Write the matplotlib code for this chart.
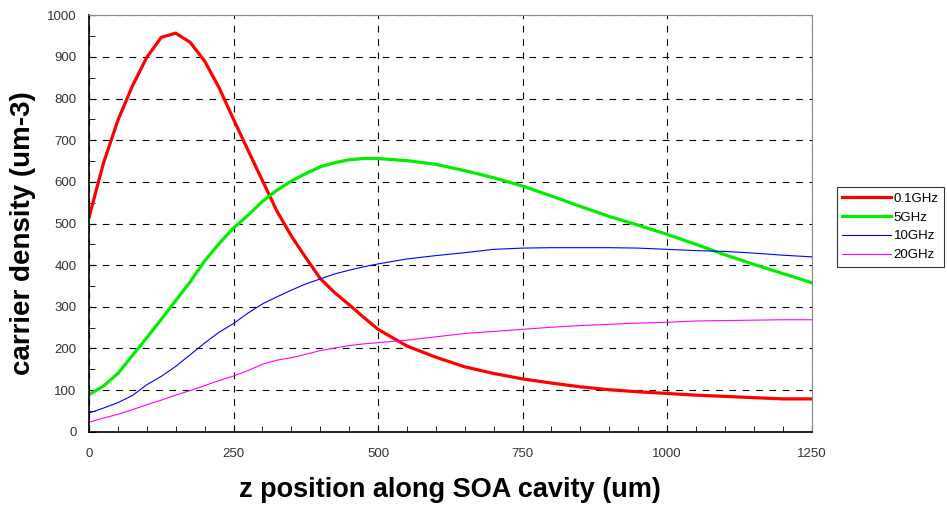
import matplotlib
matplotlib.use("Agg")
import matplotlib.pyplot as plt
from matplotlib.ticker import MultipleLocator

plt.rcParams["font.family"] = ["Liberation Sans", "DejaVu Sans"]

# position along the cavity (um)
z = [0, 25, 50, 75, 100, 125, 150, 175, 200, 225, 250, 275, 300, 325, 350,
     375, 400, 425, 450, 475, 500, 550, 600, 650, 700, 750, 800, 850, 900,
     950, 1000, 1050, 1100, 1150, 1200, 1250]

n_01ghz = [515, 645, 748, 830, 899, 947, 957, 935, 890, 826, 750, 676, 603,
           530, 470, 418, 368, 334, 305, 275, 246, 206, 179, 156, 140, 127,
           117, 108, 101, 96, 92, 88, 85, 82, 79, 79]
n_5ghz = [89, 110, 140, 183, 226, 270, 315, 360, 410, 452, 489, 520, 553,
          580, 602, 620, 636, 646, 653, 656, 656, 651, 642, 627, 610, 590,
          566, 541, 517, 496, 474, 450, 425, 402, 380, 358]
n_10ghz = [45, 57, 70, 87, 113, 133, 157, 185, 213, 239, 260, 285, 307, 324,
           340, 355, 367, 379, 388, 396, 403, 415, 423, 430, 438, 441, 442,
           442, 442, 441, 438, 435, 433, 429, 424, 420]
n_20ghz = [23, 33, 42, 53, 65, 76, 88, 99, 111, 123, 134, 147, 162, 172, 178,
           186, 195, 201, 207, 211, 214, 220, 228, 236, 241, 246, 251, 255,
           258, 261, 263, 266, 267, 268, 269, 269]

fig = plt.figure(figsize=(9.47, 5.08), dpi=100)
ax = fig.add_axes([0.094, 0.150, 0.763, 0.820])

ax.plot(z, n_01ghz, color="#ff0000", lw=2.3, label="0.1GHz", solid_joinstyle="round")
ax.plot(z, n_5ghz, color="#00ee00", lw=2.3, label="5GHz", solid_joinstyle="round")
ax.plot(z, n_10ghz, color="#0000ff", lw=0.8, label="10GHz")
ax.plot(z, n_20ghz, color="#ff00ff", lw=0.8, label="20GHz")

ax.set_xlim(0, 1250)
ax.set_ylim(0, 1000)
ax.xaxis.set_major_locator(MultipleLocator(250))
ax.xaxis.set_minor_locator(MultipleLocator(50))
ax.yaxis.set_major_locator(MultipleLocator(100))
ax.yaxis.set_minor_locator(MultipleLocator(50))
ax.tick_params(which="both", direction="in", labelsize=9.5, labelcolor="#333333")
ax.tick_params(which="major", length=5)
ax.tick_params(which="minor", length=4)
ax.tick_params(axis="x", pad=12)
ax.tick_params(axis="y", pad=9)
ax.grid(True, which="major", color="black", linestyle=(0, (6, 6)), lw=0.8)

for s in ["top", "right"]:
    ax.spines[s].set_color("#888888")
for s in ["left", "bottom"]:
    ax.spines[s].set_linewidth(1.2)

ax.set_xlabel("z position along SOA cavity (um)", fontsize=19.5, fontweight="bold", labelpad=12)
ax.set_ylabel("carrier density (um-3)", fontsize=20, fontweight="bold")
ax.yaxis.set_label_coords(-0.074, 0.477)

leg = ax.legend(loc="upper left", bbox_to_anchor=(1.035, 0.587), fontsize=9.5,
                frameon=True, fancybox=False, edgecolor="black",
                handlelength=3.7, handletextpad=0.2, borderpad=0.4,
                labelspacing=0.5, borderaxespad=0)
leg.get_frame().set_linewidth(0.8)

fig.savefig("out.png", dpi=100)
